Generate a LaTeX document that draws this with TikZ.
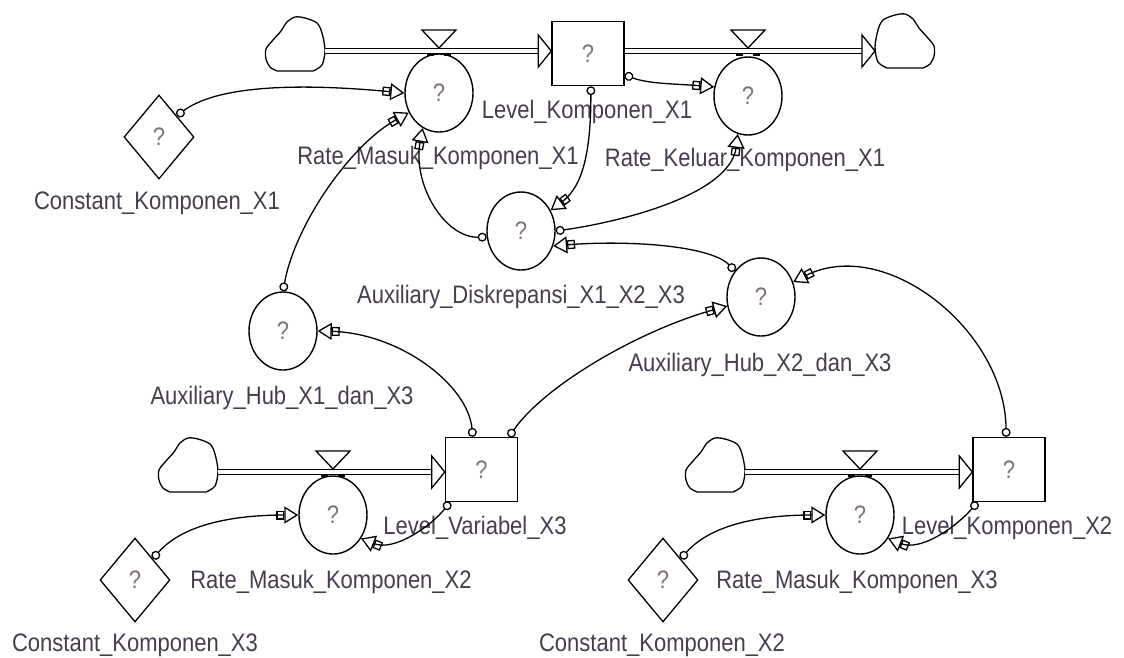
\documentclass[tikz,border=0pt]{standalone}
\usepackage{fontspec}
\setmainfont{Liberation Sans}
\usetikzlibrary{shapes.geometric,arrows.meta,calc}
\definecolor{lblcol}{rgb}{0.28,0.24,0.30}
\definecolor{qcol}{rgb}{0.50,0.45,0.45}
\newcommand\stretchtxt[1]{\scalebox{1}[1.15]{#1}}
\tikzset{
  cloudpic/.pic={\draw[line width=1.3pt] (-18,26) -- (18,26)
     plot[smooth] coordinates {(18,26) (27,20) (30,5) (27,-12) (22,-22) (10,-27) (0,-28) (-8,-23) (-14,-14) (-22,-5) (-29,4) (-29,14) (-25,22) (-18,26)};},
  pipehead/.pic={\draw[line width=1.3pt,fill=white] (0,0) -- (-13,-16) -- (-13,16) -- cycle;},
  valvepic/.pic={\draw[line width=1.3pt,fill=white] (-17,-21) -- (17,-21) -- (0,-3) -- cycle;
     \fill (-12,2) rectangle (-5,5); \fill (5,2) rectangle (12,5);},
}
\begin{document}
\begin{tikzpicture}[x=1pt,y=-1pt,
  every node/.style={font=\fontsize{22}{24}\selectfont},
  rate/.style={ellipse,draw,line width=1.4pt,minimum width=68pt,minimum height=78pt,inner sep=0pt,text=qcol,fill=white},
  level/.style={rectangle,draw,line width=1.4pt,minimum width=72pt,minimum height=64pt,inner sep=0pt,text=qcol,fill=white},
  const/.style={diamond,draw,line width=1.3pt,minimum width=70pt,minimum height=84pt,inner sep=0pt,text=qcol},
  lbl/.style={text=lblcol,inner sep=0pt},
  link/.style={line width=1.3pt,{Circle[open,length=9pt,width=9pt]}-{Rectangle[open,length=8pt,width=9pt]Triangle[open,length=14pt,width=17pt]}},
  pipe/.style={line width=1.3pt,double=white,double distance=4pt},
]
\fill[white] (0,0) rectangle (1124,657);
\useasboundingbox (0,0) rectangle (1124,657);

% clouds
\pic at (295,45) {cloudpic};
\pic[xscale=-1] at (905,42) {cloudpic};
\pic at (188,466) {cloudpic};
\pic at (715,466) {cloudpic};
\coordinate (cl1) at (325,51);
\coordinate (cl2) at (875,51);
\coordinate (cl3) at (218,472);
\coordinate (cl4) at (745,472);

% stocks
\node[level] (lk1) at (588,53.5) {\stretchtxt{?}};
\node[level] (lv3) at (481.5,469.5) {\stretchtxt{?}};
\node[level] (lk2) at (1009,469.5) {\stretchtxt{?}};

% pipes
\draw[pipe] (cl1) -- ($(cl1 -| lk1.west)+(-13,0)$);
\pic at (cl1 -| lk1.west) {pipehead};
\draw[pipe] (cl2 -| lk1.east) -- ($(cl2)+(-13,0)$);
\pic at (cl2) {pipehead};
\draw[pipe] (cl3) -- ($(cl3 -| lv3.west)+(-13,0)$);
\pic at (cl3 -| lv3.west) {pipehead};
\draw[pipe] (cl4) -- ($(cl4 -| lk2.west)+(-13,0)$);
\pic at (cl4 -| lk2.west) {pipehead};

% rates and auxiliaries
\node[rate] (rm1) at (439,93) {\stretchtxt{?}};
\node[rate] (rk1) at (748,96) {\stretchtxt{?}};
\node[rate] (ad) at (521,231) {\stretchtxt{?}};
\node[rate] (ah2) at (761,297) {\stretchtxt{?}};
\node[rate] (ah1) at (283,331) {\stretchtxt{?}};
\node[rate] (rm2) at (333,515) {\stretchtxt{?}};
\node[rate] (rm3) at (860,515) {\stretchtxt{?}};

% valves
\pic at (rm1.north |- cl1) {valvepic};
\pic at (rk1.north |- cl2) {valvepic};
\pic at (rm2.north |- cl3) {valvepic};
\pic at (rm3.north |- cl4) {valvepic};

% constants
\node[const] (c1) at (159,137) {\stretchtxt{?}};
\node[const] (c3) at (135,580) {\stretchtxt{?}};
\node[const] (c2) at (663,580) {\stretchtxt{?}};

% labels
\node[lbl] (t1) at (157,203) {\stretchtxt{Constant\_Komponen\_X1}};
\node[lbl] (t2) at (438,158) {\stretchtxt{Rate\_Masuk\_Komponen\_X1}};
\node[lbl] (t3) at (587,112) {\stretchtxt{Level\_Komponen\_X1}};
\node[lbl] (t4) at (745,160) {\stretchtxt{Rate\_Keluar\_Komponen\_X1}};
\node[lbl] (t5) at (521,297) {\stretchtxt{Auxiliary\_Diskrepansi\_X1\_X2\_X3}};
\node[lbl] (t6) at (760,365) {\stretchtxt{Auxiliary\_Hub\_X2\_dan\_X3}};
\node[lbl] (t7) at (282,398) {\stretchtxt{Auxiliary\_Hub\_X1\_dan\_X3}};
\node[lbl] (t8) at (475,528) {\stretchtxt{Level\_Variabel\_X3}};
\node[lbl] (t9) at (331,582) {\stretchtxt{Rate\_Masuk\_Komponen\_X2}};
\node[lbl] (t10) at (135,645) {\stretchtxt{Constant\_Komponen\_X3}};
\node[lbl] (t11) at (1007,528) {\stretchtxt{Level\_Komponen\_X2}};
\node[lbl] (t12) at (857,582) {\stretchtxt{Rate\_Masuk\_Komponen\_X3}};
\node[lbl] (t13) at (662,645) {\stretchtxt{Constant\_Komponen\_X2}};

% information links
\draw[link] (c1.north east) .. controls (225,80) and (330,86) .. (rm1.west);
\draw[link] (ah1.north) .. controls (295,225) and (350,145) .. (rm1.213);
\draw[link] (ad.190) .. controls (445,238) and (412,185) .. (rm1.245);
\draw[link] (lk1.-30) .. controls (648,84) and (680,84) .. (rk1.165);
\draw[link] (lk1.-85) .. controls (591,165) and (578,190) .. (ad.35);
\draw[link] (ad.east) .. controls (620,222) and (730,195) .. (rk1.255);
\draw[link] (ah2.135) .. controls (710,245) and (625,240) .. (ad.-25);
\draw[link] (lv3.105) .. controls (468,385) and (400,333) .. (ah1.east);
\draw[link] (lv3.50) .. controls (545,385) and (640,330) .. (ah2.195);
\draw[link] (lk2.95) .. controls (1005,330) and (885,235) .. (ah2.25);
\draw[link] (c3.north east) .. controls (185,522) and (240,515) .. (rm2.west);
\draw[link] (lv3.-134) .. controls (432,525) and (395,552) .. (rm2.-40);
\draw[link] (c2.north east) .. controls (713,522) and (768,515) .. (rm3.west);
\draw[link] (lk2.-134) .. controls (958,525) and (922,552) .. (rm3.-40);
\end{tikzpicture}
\end{document}
